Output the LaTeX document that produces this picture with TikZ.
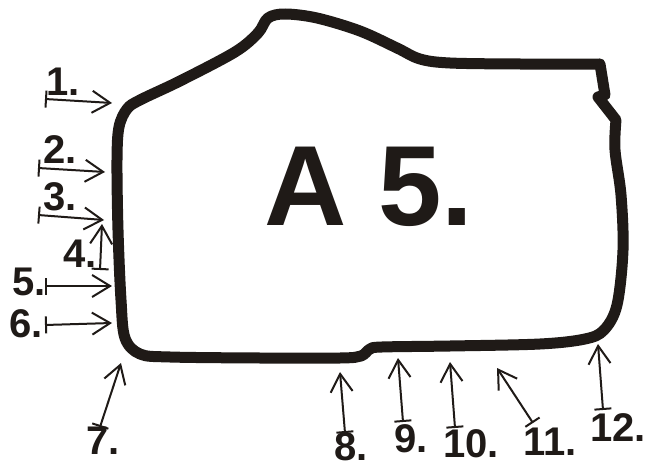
\documentclass[tikz,border=0pt]{standalone}
\usepackage{fontspec}
\setmainfont{Liberation Sans}
\usetikzlibrary{arrows.meta}
\definecolor{ink}{RGB}{31,26,23}
\tikzset{
  outline/.style={draw=ink, line width=11pt, line join=round, line cap=round},
  arr/.style={draw=ink, line width=2pt, {Bar[width=17pt,line width=2pt]}-{Straight Barb[length=18pt,width=22pt,line width=2pt]}},
  lbl/.style={font=\fontsize{40}{40}\selectfont\bfseries, text=ink, inner sep=0pt},
  big/.style={font=\fontsize{114}{114}\selectfont\bfseries, text=ink, inner sep=0pt}
}
\begin{document}
\begin{tikzpicture}[x=1pt,y=-1pt]
\useasboundingbox[fill=white] (0,0) rectangle (648,468);
% outline
\draw[outline] plot[smooth,tension=0.55] coordinates {(600,64) (520,64) (450,63) (420,59) (397,48) (360,31) (317,18) (285,14) (268,18) (258,33) (235,52) (180,81) (140,100) (127,109) (119,127) (117,160) (118,230) (121,300) (125,338) (140,354) (170,357) (260,358) (340,358) (361,356) (370,349) (382,347) (450,346) (540,344) (585,339) (604,330) (617,305) (623,250) (621,195) (615,150) (616,120)}
  -- (598,97) -- (605,95) -- cycle;
\node[big] (title) at (369,187) {A 5.};
% arrow end points
\coordinate (t1) at (45,99);   \coordinate (h1) at (112,103);
\coordinate (t2) at (38,168);  \coordinate (h2) at (105,172);
\coordinate (t3) at (38,215);  \coordinate (h3) at (104,220);
\coordinate (t4) at (100,270); \coordinate (h4) at (102,224);
\coordinate (t5) at (45,286);  \coordinate (h5) at (112,286);
\coordinate (t6) at (45,325);  \coordinate (h6) at (112,323);
\coordinate (t7) at (100,427); \coordinate (h7) at (121,363);
\coordinate (t8) at (345,433); \coordinate (h8) at (340,372);
\coordinate (t9) at (403,422); \coordinate (h9) at (398,358);
\coordinate (t10) at (455,428); \coordinate (h10) at (450,362);
\coordinate (t11) at (533,423); \coordinate (h11) at (497,368);
\coordinate (t12) at (603,410); \coordinate (h12) at (598,344);
\foreach \i in {1,...,12} { \draw[arr] (t\i) -- (h\i); }
% labels
\node[lbl] (l1) at (63,82) {1.};
\node[lbl] (l2) at (60,150) {2.};
\node[lbl] (l3) at (60,197) {3.};
\node[lbl] (l4) at (80,254) {4.};
\node[lbl] (l5) at (29,282) {5.};
\node[lbl] (l6) at (26,324) {6.};
\node[lbl] (l7) at (103,441) {7.};
\node[lbl] (l8) at (351,447) {8.};
\node[lbl] (l9) at (411,439) {9.};
\node[lbl] (l10) at (471,444) {10.};
\node[lbl] (l11) at (550,442) {11.};
\node[lbl] (l12) at (618,428) {12.};
\end{tikzpicture}
\end{document}
